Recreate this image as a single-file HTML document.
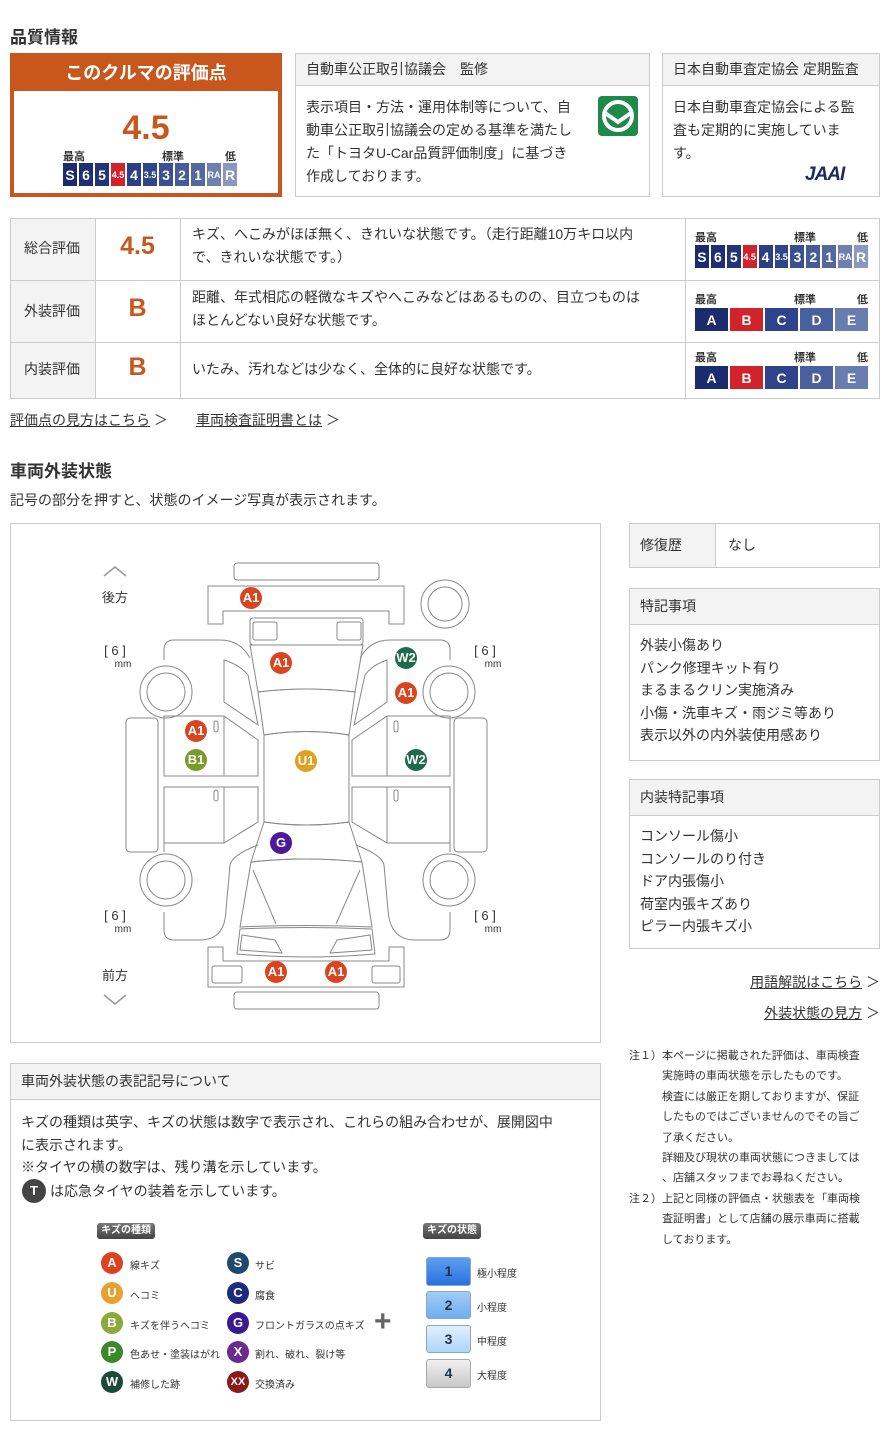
<!DOCTYPE html>
<html><head><meta charset="utf-8"><style>
*{margin:0;padding:0;box-sizing:border-box}
body{width:890px;height:1440px;background:#fff;font-family:"Liberation Sans","Noto Sans CJK JP",sans-serif;color:#333;position:relative;overflow:hidden}
.a{position:absolute;white-space:nowrap}
.box{position:absolute;border:1px solid #ccc;background:#fff}
.hd{position:absolute;left:0;right:0;top:0;background:#f3f3f3;border-bottom:1px solid #ccc;font-size:14px;padding-left:10px}
.sc{position:absolute;display:flex;gap:2px}
.sc div{flex:1;color:#fff;font-size:14px;text-align:center;font-weight:bold;display:flex;align-items:center;justify-content:center}
.lb{position:absolute;font-size:11px;font-weight:bold;color:#333}
.t14{font-size:14px;line-height:23px}
.u{text-decoration:underline}
.tag{position:absolute;background:linear-gradient(#777,#444);color:#fff;font-size:10px;font-weight:bold;border-radius:3px;padding:1px 4px;height:16px;line-height:14px}
.mk{position:absolute;width:22px;height:22px;border-radius:50%;color:#fff;font-weight:bold;font-size:13px;text-align:center;line-height:22px}
.st{position:absolute;width:45px;border-radius:3px;text-align:center;font-weight:bold;font-size:14px;color:#234;border:1px solid #8ab}
</style></head><body>
<div class="a" style="left:10px;top:23px;font-size:17px;font-weight:bold">品質情報</div>

<div class="a" style="left:10px;top:53px;width:272px;height:144px;background:#c8571e"></div>
<div class="a" style="left:10px;top:53px;width:272px;height:38px;color:#fff;font-size:18px;font-weight:bold;text-align:center;line-height:40px">このクルマの評価点</div>
<div class="a" style="left:14px;top:91px;width:264px;height:102px;background:#fff"></div>
<div class="a" style="left:14px;top:108px;width:264px;text-align:center;color:#c8571e;font-size:34px;font-weight:bold;line-height:40px">4.5</div>
<div class="lb" style="left:63px;top:148px">最高</div><div class="lb" style="left:162px;top:148px">標準</div><div class="lb" style="left:225px;top:148px">低</div>
<div class="sc" style="left:63px;top:163px;width:174px;height:23px">
<div style="background:#1c2a6e">S</div><div style="background:#1f2f75">6</div><div style="background:#223579">5</div><div style="background:#d3232a;font-size:9px">4.5</div><div style="background:#2b3f85">4</div><div style="background:#30468a;font-size:9px">3.5</div><div style="background:#3a5090">3</div><div style="background:#455c98">2</div><div style="background:#5468a0">1</div><div style="background:#6e7fb0;font-size:9px">RA</div><div style="background:#8a98c0">R</div></div>

<div class="box" style="left:295px;top:53px;width:355px;height:144px"><div class="hd" style="height:32px;line-height:31px">自動車公正取引協議会　監修</div>
<div class="a t14" style="left:10px;top:42px">表示項目・方法・運用体制等について、自<br>動車公正取引協議会の定める基準を満たし<br>た「トヨタU-Car品質評価制度」に基づき<br>作成しております。</div>
<div class="a" style="left:302px;top:42px;width:40px;height:40px;background:#1d8a4a;border-radius:4px"><svg width="40" height="40"><circle cx="20" cy="20" r="14" fill="none" stroke="#fff" stroke-width="4"/><path d="M7 17 L20 26 L33 17" stroke="#fff" stroke-width="4" fill="none"/></svg></div></div>

<div class="box" style="left:662px;top:53px;width:218px;height:144px"><div class="hd" style="height:32px;line-height:31px">日本自動車査定協会 定期監査</div>
<div class="a t14" style="left:10px;top:42px">日本自動車査定協会による監<br>査も定期的に実施していま<br>す。</div>
<div class="a" style="left:142px;top:110px;font-size:19px;font-weight:bold;font-style:italic;color:#1c2a5e;letter-spacing:-1px">JAAI</div></div>

<!-- table -->
<div class="a" style="left:10px;top:218px;width:870px;height:181px;border:1px solid #ccc"></div>
<div class="a" style="left:11px;top:219px;width:84px;height:179px;background:#f3f3f3"></div>
<div class="a" style="left:10px;top:280px;width:870px;border-top:1px solid #ccc"></div>
<div class="a" style="left:10px;top:342px;width:870px;border-top:1px solid #ccc"></div>
<div class="a" style="left:95px;top:218px;height:181px;border-left:1px solid #ccc"></div>
<div class="a" style="left:180px;top:218px;height:181px;border-left:1px solid #ccc"></div>
<div class="a" style="left:685px;top:218px;height:181px;border-left:1px solid #ccc"></div>
<div class="a" style="left:24px;top:238px;font-size:14px">総合評価</div>
<div class="a" style="left:24px;top:301px;font-size:14px">外装評価</div>
<div class="a" style="left:24px;top:359px;font-size:14px">内装評価</div>
<div class="a" style="left:95px;top:232px;width:85px;text-align:center;color:#c8571e;font-size:25px;font-weight:bold">4.5</div>
<div class="a" style="left:95px;top:294px;width:85px;text-align:center;color:#c8571e;font-size:25px;font-weight:bold">B</div>
<div class="a" style="left:95px;top:353px;width:85px;text-align:center;color:#c8571e;font-size:25px;font-weight:bold">B</div>
<div class="a t14" style="left:192px;top:223px">キズ、へこみがほぼ無く、きれいな状態です。（走行距離10万キロ以内<br>で、きれいな状態です。）</div>
<div class="a t14" style="left:192px;top:286px">距離、年式相応の軽微なキズやへこみなどはあるものの、目立つものは<br>ほとんどない良好な状態です。</div>
<div class="a t14" style="left:192px;top:358px">いたみ、汚れなどは少なく、全体的に良好な状態です。</div>
<div class="lb" style="left:695px;top:229px">最高</div><div class="lb" style="left:794px;top:229px">標準</div><div class="lb" style="left:857px;top:229px">低</div>
<div class="sc" style="left:695px;top:245px;width:173px;height:23px">
<div style="background:#1c2a6e">S</div><div style="background:#1f2f75">6</div><div style="background:#223579">5</div><div style="background:#d3232a;font-size:9px">4.5</div><div style="background:#2b3f85">4</div><div style="background:#30468a;font-size:9px">3.5</div><div style="background:#3a5090">3</div><div style="background:#455c98">2</div><div style="background:#5468a0">1</div><div style="background:#6e7fb0;font-size:9px">RA</div><div style="background:#8a98c0">R</div></div>
<div class="lb" style="left:695px;top:291px">最高</div><div class="lb" style="left:794px;top:291px">標準</div><div class="lb" style="left:857px;top:291px">低</div>
<div class="sc" style="left:695px;top:308px;width:173px;height:23px"><div style="background:#1c2a6e">A</div><div style="background:#d3232a">B</div><div style="background:#2e438a">C</div><div style="background:#4a5f9d">D</div><div style="background:#6a7db0">E</div></div>
<div class="lb" style="left:695px;top:349px">最高</div><div class="lb" style="left:794px;top:349px">標準</div><div class="lb" style="left:857px;top:349px">低</div>
<div class="sc" style="left:695px;top:366px;width:173px;height:23px"><div style="background:#1c2a6e">A</div><div style="background:#d3232a">B</div><div style="background:#2e438a">C</div><div style="background:#4a5f9d">D</div><div style="background:#6a7db0">E</div></div>

<div class="a" style="left:10px;top:410px;font-size:14px"><span class="u">評価点の見方はこちら</span> ＞</div>
<div class="a" style="left:196px;top:410px;font-size:14px"><span class="u">車両検査証明書とは</span> ＞</div>

<div class="a" style="left:10px;top:457px;font-size:17px;font-weight:bold">車両外装状態</div>
<div class="a" style="left:10px;top:490px;font-size:14px">記号の部分を押すと、状態のイメージ写真が表示されます。</div>

<!-- diagram -->
<div class="box" style="left:10px;top:523px;width:591px;height:520px"></div>
<svg class="a" style="left:90px;top:540px" width="420" height="480" viewBox="0 0 420 480">
<g fill="none" stroke="#888" stroke-width="1">
<path d="M14 36 L25 27 L36 36" stroke="#999" stroke-width="1.5"/>
<path d="M14 455 L25 464 L36 455" stroke="#999" stroke-width="1.5"/>
<rect x="144" y="23" width="145" height="17" rx="3"/>
<path d="M118 46 H314 V84 H299 V71 H133 V84 H118 Z"/>
<circle cx="355" cy="64" r="24"/><circle cx="355" cy="64" r="17"/>
<circle cx="76" cy="152" r="26"/><circle cx="76" cy="152" r="19"/>
<circle cx="359" cy="152" r="26"/><circle cx="359" cy="152" r="19"/>
<circle cx="76" cy="340" r="26"/><circle cx="76" cy="340" r="19"/>
<circle cx="359" cy="340" r="26"/><circle cx="359" cy="340" r="19"/>
<rect x="36" y="178" width="32" height="134" rx="4"/>
<rect x="364" y="178" width="33" height="134" rx="4"/>
<!-- left body -->
<path d="M160 118 Q150 100 130 100 H84 Q74 100 74 110 V120 M74 184 V176 M74 303 V312 M74 372 V390 Q74 400 84 400 H110 Q135 400 136 370 L140 325 Q142 315 168 305"/>
<path d="M74 176 H134 L168 200 V236 H74 Z M74 247 H168 V282 L134 303 H74 Z M134 176 V236 M134 247 V303"/>
<path d="M134 120 Q150 125 158 135 L168 185 L134 162 Z"/>
<!-- right body -->
<path d="M270 118 Q280 100 300 100 H350 Q360 100 360 110 V120 M360 176 V184 M360 303 V312 M360 372 V390 Q360 400 350 400 H325 Q300 400 298 370 L294 325 Q292 315 266 305"/>
<path d="M360 176 H297 L262 200 V236 H360 Z M360 247 H262 V282 L297 303 H360 Z M297 176 V236 M297 247 V303"/>
<path d="M297 120 Q282 125 275 135 L264 185 L297 162 Z"/>
<!-- center -->
<rect x="160" y="78" width="113" height="27" rx="3"/>
<rect x="163" y="82" width="24" height="18" rx="2"/><rect x="247" y="82" width="24" height="18" rx="2"/>
<path d="M160 105 H273 L265 152 Q216 146 168 152 Z"/>
<path d="M168 152 Q216 146 265 152 L259 195 Q216 188 174 195 Z"/>
<path d="M174 195 Q216 188 259 195 V282 Q216 288 174 282 Z"/>
<path d="M174 282 Q216 288 259 282 L272 322 Q216 316 161 322 Z"/>
<path d="M161 322 Q216 316 272 322 L282 387 Q216 384 150 387 Z M163 330 L186 384 M270 330 L246 384"/>
<path d="M150 389 Q216 386 282 389 L285 414 Q216 420 147 414 Z"/>
<path d="M152 395 L185 400 L192 413 L150 410 Z M280 395 L247 400 L240 413 L282 410 Z"/>
<path d="M118 407 H133 V421 H299 V407 H314 V447 H118 Z"/>
<rect x="122" y="426" width="30" height="17" rx="2"/><rect x="282" y="426" width="28" height="17" rx="2"/>
<rect x="144" y="452" width="145" height="17" rx="3"/>
<rect x="124" y="181" width="4" height="11" rx="2"/><rect x="124" y="250" width="4" height="11" rx="2"/>
<rect x="304" y="181" width="4" height="11" rx="2"/><rect x="304" y="250" width="4" height="11" rx="2"/>
</g>
<g font-size="13" fill="#333" text-anchor="middle" font-family="Liberation Sans,Noto Sans CJK JP,sans-serif">
<text x="25" y="62">後方</text><text x="25" y="440">前方</text>
<text x="25" y="115">[  6  ]</text><text x="395" y="115">[  6  ]</text>
<text x="25" y="380">[  6  ]</text><text x="395" y="380">[  6  ]</text>
<g font-size="10"><text x="33" y="127">mm</text><text x="403" y="127">mm</text><text x="33" y="392">mm</text><text x="403" y="392">mm</text></g>
</g>
</svg>
<div class="mk" style="left:240px;top:587px;background:#d9451f">A1</div>
<div class="mk" style="left:270px;top:652px;background:#d9451f">A1</div>
<div class="mk" style="left:395px;top:647px;background:#1e6b4a">W2</div>
<div class="mk" style="left:395px;top:682px;background:#d9451f">A1</div>
<div class="mk" style="left:185px;top:720px;background:#d9451f">A1</div>
<div class="mk" style="left:185px;top:749px;background:#7a9a2a">B1</div>
<div class="mk" style="left:295px;top:750px;background:#e0a020">U1</div>
<div class="mk" style="left:405px;top:749px;background:#1e6b4a">W2</div>
<div class="mk" style="left:270px;top:832px;background:#4a1a9a">G</div>
<div class="mk" style="left:265px;top:961px;background:#d9451f">A1</div>
<div class="mk" style="left:325px;top:961px;background:#d9451f">A1</div>

<!-- right column -->
<div class="box" style="left:629px;top:523px;width:251px;height:45px"></div>
<div class="a" style="left:630px;top:524px;width:86px;height:43px;background:#f3f3f3;border-right:1px solid #ccc"></div>
<div class="a" style="left:640px;top:535px;font-size:14px">修復歴</div>
<div class="a" style="left:728px;top:535px;font-size:14px">なし</div>
<div class="box" style="left:629px;top:588px;width:251px;height:173px"><div class="hd" style="height:36px;line-height:35px">特記事項</div>
<div class="a t14" style="left:10px;top:45px;line-height:22.5px">外装小傷あり<br>パンク修理キット有り<br>まるまるクリン実施済み<br>小傷・洗車キズ・雨ジミ等あり<br>表示以外の内外装使用感あり</div></div>
<div class="box" style="left:629px;top:779px;width:251px;height:170px"><div class="hd" style="height:36px;line-height:35px">内装特記事項</div>
<div class="a t14" style="left:10px;top:45px;line-height:22.5px">コンソール傷小<br>コンソールのり付き<br>ドア内張傷小<br>荷室内張キズあり<br>ピラー内張キズ小</div></div>
<div class="a" style="right:10px;top:972px;font-size:14px"><span class="u">用語解説はこちら</span> ＞</div>
<div class="a" style="right:10px;top:1003px;font-size:14px"><span class="u">外装状態の見方</span> ＞</div>
<div class="a" style="left:629px;top:1046px;font-size:11px;line-height:20.4px">注１）本ページに掲載された評価は、車両検査<br>　　　実施時の車両状態を示したものです。<br>　　　検査には厳正を期しておりますが、保証<br>　　　したものではございませんのでその旨ご<br>　　　了承ください。<br>　　　詳細及び現状の車両状態につきましては<br>　　　、店舗スタッフまでお尋ねください。<br>注２）上記と同様の評価点・状態表を「車両検<br>　　　査証明書」として店舗の展示車両に搭載<br>　　　しております。</div>

<!-- legend -->
<div class="box" style="left:10px;top:1063px;width:591px;height:358px"><div class="hd" style="height:36px;line-height:35px">車両外装状態の表記記号について</div></div>
<div class="a t14" style="left:21px;top:1111px;line-height:22.5px">キズの種類は英字、キズの状態は数字で表示され、これらの組み合わせが、展開図中<br>に表示されます。<br>※タイヤの横の数字は、残り溝を示しています。</div>
<div class="a" style="left:22px;top:1179px;width:24px;height:24px;border-radius:50%;background:#444;color:#fff;font-weight:bold;font-size:13px;text-align:center;line-height:24px">T</div>
<div class="a" style="left:50px;top:1181px;font-size:14px">は応急タイヤの装着を示しています。</div>
<div class="tag" style="left:97px;top:1223px">キズの種類</div>
<div class="tag" style="left:423px;top:1223px">キズの状態</div>
<div class="mk" style="left:101px;top:1252px;background:#e0401c">A</div><div class="a" style="left:130px;top:1257px;font-size:10px">線キズ</div>
<div class="mk" style="left:101px;top:1282px;background:#e8a030">U</div><div class="a" style="left:130px;top:1287px;font-size:10px">へコミ</div>
<div class="mk" style="left:101px;top:1312px;background:#8aaa3a">B</div><div class="a" style="left:130px;top:1317px;font-size:10px">キズを伴うへコミ</div>
<div class="mk" style="left:101px;top:1341px;background:#3a8a2a">P</div><div class="a" style="left:130px;top:1346px;font-size:10px">色あせ・塗装はがれ</div>
<div class="mk" style="left:101px;top:1371px;background:#1d4a3a">W</div><div class="a" style="left:130px;top:1376px;font-size:10px">補修した跡</div>
<div class="mk" style="left:227px;top:1252px;background:#1e4a70">S</div><div class="a" style="left:255px;top:1257px;font-size:10px">サビ</div>
<div class="mk" style="left:227px;top:1282px;background:#1e2a80">C</div><div class="a" style="left:255px;top:1287px;font-size:10px">腐食</div>
<div class="mk" style="left:227px;top:1312px;background:#3a1a90">G</div><div class="a" style="left:255px;top:1317px;font-size:10px">フロントガラスの点キズ</div>
<div class="mk" style="left:227px;top:1341px;background:#6a2a90">X</div><div class="a" style="left:255px;top:1346px;font-size:10px">割れ、破れ、裂け等</div>
<div class="mk" style="left:227px;top:1371px;background:#8a1a1a;font-size:11px">XX</div><div class="a" style="left:255px;top:1376px;font-size:10px">交換済み</div>
<div class="a" style="left:374px;top:1307px;font-size:30px;font-weight:bold;color:#666;line-height:30px">+</div>
<div class="st" style="left:426px;top:1257px;height:29px;line-height:27px;background:linear-gradient(#5aa0f0,#2a70e0)">1</div><div class="a" style="left:477px;top:1265px;font-size:10px">極小程度</div>
<div class="st" style="left:426px;top:1291px;height:28px;line-height:26px;background:linear-gradient(#a0ccf8,#70aef0)">2</div><div class="a" style="left:477px;top:1299px;font-size:10px">小程度</div>
<div class="st" style="left:426px;top:1325px;height:28px;line-height:26px;background:linear-gradient(#e0f0ff,#b0d6f8)">3</div><div class="a" style="left:477px;top:1333px;font-size:10px">中程度</div>
<div class="st" style="left:426px;top:1359px;height:29px;line-height:27px;background:linear-gradient(#f0f0f0,#c8c8c8);border-color:#aaa">4</div><div class="a" style="left:477px;top:1367px;font-size:10px">大程度</div>
</body></html>
